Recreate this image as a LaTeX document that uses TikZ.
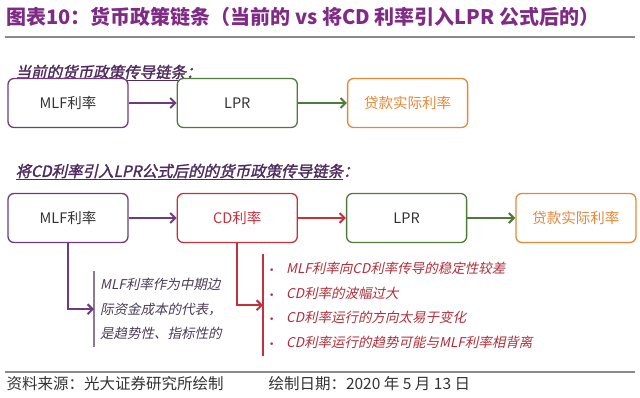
\documentclass[tikz,border=0pt]{standalone}
\usepackage{fontspec}
\setmainfont{Noto Sans CJK SC}
\newfontfamily\slantfont[FakeSlant=0.22]{Noto Sans CJK SC}
\newfontfamily\slantbold[FakeSlant=0.22,FakeBold=1.6]{Noto Sans CJK SC}
\newfontfamily\bulletfont{DejaVu Sans}
\usetikzlibrary{arrows.meta,positioning}

\definecolor{titlepurple}{HTML}{7F2B86}
\definecolor{subpurple}{HTML}{4E2A5E}
\definecolor{mlfpurple}{HTML}{6E3B7E}
\definecolor{lprgreen}{HTML}{4F7A3B}
\definecolor{loanorange}{HTML}{E5883A}
\definecolor{cdred}{HTML}{C6303B}
\definecolor{textgray}{HTML}{333333}
\definecolor{notegray}{HTML}{8C7A94}
\definecolor{notepurple}{HTML}{4B3A58}
\definecolor{notered}{HTML}{B02E3A}
\definecolor{rulegray}{HTML}{8A8A8A}

\tikzset{
  chainbox/.style={draw, rounded corners=6pt, line width=1.3pt, fill=white,
    minimum width=120pt, minimum height=49pt, text=textgray,
    font=\fontsize{14.5}{16}\selectfont},
  mlfbox/.style={chainbox, draw=mlfpurple},
  lprbox/.style={chainbox, draw=lprgreen},
  loanbox/.style={chainbox, draw=loanorange, text=loanorange},
  cdbox/.style={chainbox, draw=cdred, text=cdred},
  chainarrow/.style={line width=2pt, -{Straight Barb[length=5pt,width=10pt]}},
  subtitle/.style={anchor=west, text=subpurple, font=\slantbold\fontsize{15.5}{17}\selectfont},
  notebox/.style={anchor=north west, align=left, inner xsep=6pt, inner ysep=0pt,
    font=\slantfont\fontsize{13.5}{24.5}\selectfont},
  footer/.style={anchor=west, text=textgray, font=\fontsize{15.5}{17}\selectfont}
}
\newcommand{\notebullet}{\makebox[17pt][l]{\makebox[5pt][c]{\bulletfont\fontsize{9}{9}\selectfont •}}}

\begin{document}
\begin{tikzpicture}[x=1pt,y=-1pt]
    \useasboundingbox (0,0) rectangle (640,398);

    % Title and rule
    \node[anchor=west, text=titlepurple, font=\bfseries\fontsize{20}{22}\selectfont] (title) at (3,17)
        {图表10：货币政策链条（当前的 vs 将CD 利率引入LPR 公式后的）};
    \draw[rulegray, line width=1.5pt] (5,37) -- (635,37);

    % Current chain
    \node[subtitle] (sub1) at (12,73) {\underline{当前的货币政策传导链条}：};
    \node[mlfbox] (mlf1) at (68,103) {MLF利率};
    \node[lprbox, right=48pt of mlf1] (lpr1) {LPR};
    \node[loanbox, right=49pt of lpr1] (loan1) {贷款实际利率};
    \draw[chainarrow, mlfpurple] (mlf1) -- (lpr1);
    \draw[chainarrow, lprgreen] (lpr1) -- (loan1);

    % Chain with CD rate
    \node[subtitle] (sub2) at (12,172) {\underline{将CD利率引入LPR公式后的的货币政策传导链条}：};
    \node[mlfbox] (mlf2) at (68,218) {MLF利率};
    \node[cdbox, right=48pt of mlf2] (cd2) {CD利率};
    \node[lprbox, right=48pt of cd2] (lpr2) {LPR};
    \node[loanbox, right=48pt of lpr2] (loan2) {贷款实际利率};
    \draw[chainarrow, mlfpurple] (mlf2) -- (cd2);
    \draw[chainarrow, cdred] (cd2) -- (lpr2);
    \draw[chainarrow, lprgreen] (lpr2) -- (loan2);

    % Notes below the chain
    \node[notebox, text=notepurple, minimum height=76pt] (mlfnote) at (94,271)
        {MLF利率作为中期边\\际资金成本的代表，\\是趋势性、指标性的};
    \draw[notegray, line width=1.2pt] (mlfnote.north west) -- (mlfnote.south west);
    \draw[chainarrow, mlfpurple] (mlf2.south) |- (mlfnote.west);

    \node[notebox, text=notered, minimum height=102pt] (cdnote) at (263,254)
        {\notebullet MLF利率向CD利率传导的稳定性较差\\
         \notebullet CD利率的波幅过大\\
         \notebullet CD利率运行的方向太易于变化\\
         \notebullet CD利率运行的趋势可能与MLF利率相背离};
    \draw[cdred, line width=1.2pt] (cdnote.north west) -- (cdnote.south west);
    \draw[chainarrow, cdred] (cd2.south) |- (cdnote.west);

    % Footer
    \draw[rulegray, line width=1.5pt] (5,372) -- (635,372);
    \node[footer] (source) at (3,384) {资料来源：光大证券研究所绘制};
    \node[footer] (date) at (265,384) {绘制日期：2020 年 5 月 13 日};
\end{tikzpicture}
\end{document}
